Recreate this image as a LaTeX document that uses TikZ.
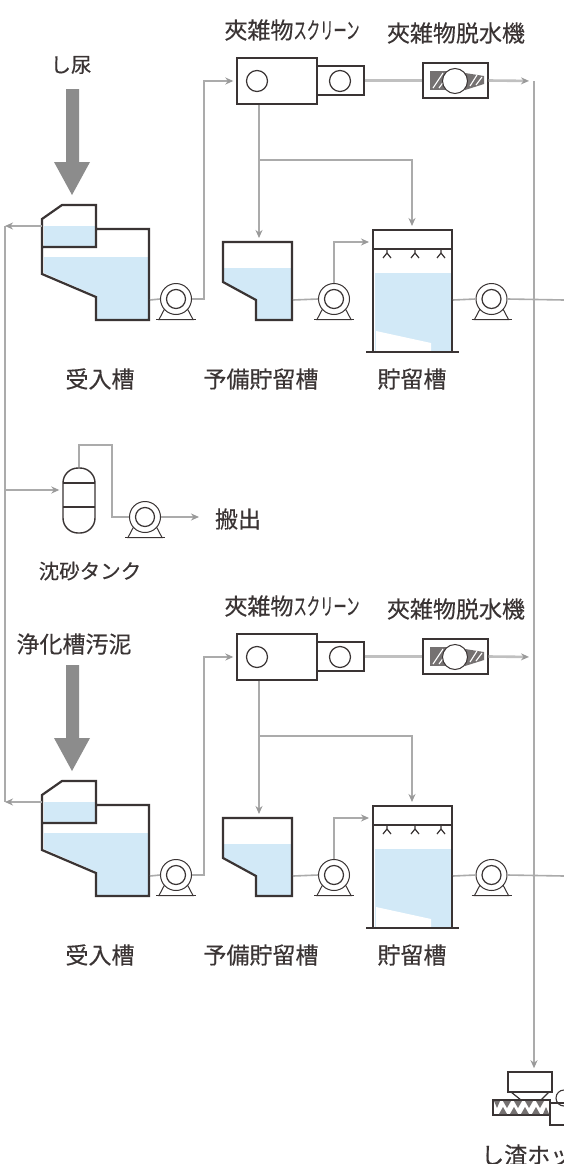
\documentclass[tikz,border=0pt]{standalone}
\usepackage{fontspec}
\usepackage{graphicx}
\setmainfont[FakeBold=0.35]{Noto Sans CJK JP}
\usetikzlibrary{arrows.meta}
\definecolor{ink}{HTML}{3A3434}
\definecolor{pipe}{HTML}{ABABAB}
\definecolor{tip}{HTML}{9A9A9A}
\definecolor{water}{HTML}{D2E9F7}
\definecolor{bigarrow}{HTML}{8C8C8C}
\tikzset{
  x=1pt,y=-1pt,
  tankline/.style={draw=ink,line width=2.2pt,line join=miter},
  pipeline/.style={draw=pipe,line width=1.6pt},
  widepipe/.style={draw=pipe!75,line width=2.6pt},
  flow/.style={pipeline,-{Stealth[length=8pt,width=7pt,color=tip]},shorten >=3pt},
  wideflow/.style={widepipe,-{Stealth[length=8pt,width=7pt,color=tip]},shorten >=5pt},
  label/.style={text=ink,font=\fontsize{23}{25}\selectfont,inner sep=0pt},
  smalllabel/.style={text=ink,font=\fontsize{20.5}{22}\selectfont,inner sep=0pt},
  pumpring/.style={circle,draw=ink,line width=1pt,fill=white,minimum size=31pt,inner sep=0pt},
  eqbox/.style={rectangle,draw=ink,line width=1.4pt,fill=white,inner sep=0pt},
  eqround/.style={circle,draw=ink,line width=1.2pt,fill=white,minimum size=21pt,inner sep=0pt},
}
\newcommand{\pumpat}[3]{%
  \draw[ink,line width=1pt,fill=white] (#2-11,#3+9) -- (#2-17,#3+20.5) -- (#2+17,#3+20.5) -- (#2+11,#3+9);
  \draw[ink,line width=1.6pt] (#2-20,#3+20.5) -- (#2+20,#3+20.5);
  \node[pumpring] (#1) at (#2,#3) {};
  \draw[ink,line width=1.2pt,fill=white] (#2,#3) circle[radius=9.5];
}
\newcommand{\processrow}[2]{%
\begin{scope}[shift={(0,#2)}]
  % big inflow arrow
  \fill[bigarrow] (66,89) -- (79,89) -- (79,162) -- (90,162) -- (72,195) -- (54,162) -- (66,162) -- cycle;
  % receiving tank
  \fill[water] (44,226) rectangle (95,246);
  \fill[water] (44,257) -- (148,257) -- (148,319) -- (97,319) -- (97,296) -- (44,273) -- cycle;
  \draw[tankline] (96,229) -- (149,229) -- (149,320) -- (96,320) -- (96,297) -- (42,274) -- (42,219) -- (62,205) -- (96,205) -- (96,247) -- (42,247);
  \coordinate (recvL#1) at (42,226);
  \coordinate (recvR#1) at (150,300);
  \pumpat{pumpA#1}{176}{299}
  % screen
  \node[eqbox,minimum width=47pt,minimum height=29pt] (scrS#1) at (340.5,80.5) {};
  \node[eqbox,minimum width=80pt,minimum height=46pt] (scr#1) at (277,81) {};
  \node[eqround] (scrC#1) at (257,81) {};
  \node[eqround] (scrD#1) at (340,81) {};
  % dewatering machine
  \node[eqbox,minimum width=65pt,minimum height=35pt] (dew#1) at (455.5,80.5) {};
  \fill[ink!70] (430,71) rectangle (447,90);
  \fill[ink!70] (465,73) -- (484,76) -- (484,84) -- (465,90) -- cycle;
  \draw[white,line width=1.1pt] (433,88) -- (443,73) (439,88) -- (447,77) (470,86) -- (477,75) (476,85) -- (482,77);
  \node[circle,draw=ink,line width=1pt,fill=white,minimum size=25pt,inner sep=0pt] (dewC#1) at (455,81) {};
  % preliminary storage tank
  \fill[water] (224,268) -- (291,268) -- (291,319) -- (257,319) -- (257,300) -- (224,282) -- cycle;
  \draw[tankline] (223,242) -- (292,242) -- (292,320) -- (256,320) -- (256,300) -- (223,282) -- cycle;
  \coordinate (preT#1) at (259,241);
  \coordinate (preR#1) at (293,300);
  \pumpat{pumpB#1}{334}{299}
  % storage tank
  \fill[water] (375,273) -- (451,273) -- (451,351) -- (375,351) -- cycle;
  \fill[white] (376,331) -- (431,343) -- (431,351) -- (376,351) -- cycle;
  \draw[tankline] (373,352) -- (373,230) -- (452,230) -- (452,352);
  \draw[ink,line width=2.6pt] (366,352) -- (459,352);
  \draw[ink,line width=1.3pt] (373,249) -- (452,249);
  \foreach \sx in {387,415,441}{
    \draw[ink,line width=1.2pt] (\sx,250) -- (\sx,253) (\sx-4,258) -- (\sx,253) -- (\sx+4,258);
  }
  \coordinate (stoT#1) at (412,229);
  \coordinate (stoL#1) at (372,242);
  \coordinate (stoR#1) at (453,300);
  \pumpat{pumpC#1}{491.5}{299}
  % pipes
  \coordinate (ent#1) at (204,81);
  \coordinate (split#1) at (259,160);
  \coordinate (out#1) at (564,300);
  \draw[pipeline] (recvR#1) -- (pumpA#1.west);
  \draw[flow] (pumpA#1.east) -| (ent#1) -- (scr#1.west);
  \draw[flow] (scr#1.south -| split#1) -- (preT#1);
  \draw[flow] (split#1) -| (stoT#1);
  \draw[pipeline] (preR#1) -- (pumpB#1.west);
  \draw[flow] (pumpB#1.north) |- (stoL#1);
  \draw[pipeline] (stoR#1) -- (pumpC#1.west);
  \draw[pipeline] (pumpC#1.east) -- (out#1);
  \draw[widepipe] (scrS#1.east) -- (dew#1.west);
  \coordinate (dewOut#1) at (534,81);
  \draw[wideflow] (dew#1.east) -- (dewOut#1);
  % labels
  \node[label] (lbScr#1) at (292,30) {夾雑物\scalebox{0.58}[1]{スクリーン}};
  \node[label] (lbDew#1) at (456,33) {夾雑物脱水機};
  \node[label] (lbRecv#1) at (100,379) {受入槽};
  \node[label] (lbPre#1) at (261,379) {予備貯留槽};
  \node[label] (lbSto#1) at (412,379) {貯留槽};
\end{scope}}
\begin{document}
\begin{tikzpicture}
\useasboundingbox (0,0) rectangle (564,1164);
\clip (0,0) rectangle (564,1164);
\fill[white] (0,0) rectangle (564,1164);
\processrow{a}{0}
\processrow{b}{576}
\node[smalllabel] (lbIn1) at (71,65) {し尿};
\node[label] (lbIn2) at (74,644) {浄化槽汚泥};
% left return pipe
\coordinate (retTop) at (5,226);
\coordinate (retBot) at (5,802);
\draw[pipeline] (retTop) -- (retBot);
\draw[flow,shorten >=0pt] (recvLa) -- (retTop);
\draw[flow,shorten >=0pt] (recvLb) -- (retBot);
% sand tank
\node[draw=ink,line width=1.4pt,fill=white,rectangle,rounded corners=15pt,minimum width=32pt,minimum height=65pt,inner sep=0pt] (sand) at (79,500.5) {};
\draw[ink,line width=1.1pt] (63,483) -- (95,483) (63,507) -- (95,507);
\pumpat{pumpS}{145}{517}
\coordinate (retMid) at (5,490);
\coordinate (sandUp) at (79,445);
\coordinate (sandOver) at (112,445);
\coordinate (sandDown) at (112,517);
\coordinate (carryOut) at (202,517);
\draw[flow] (retMid) -- (sand.west |- retMid);
\draw[pipeline] (sand.north) -- (sandUp) -- (sandOver) -- (sandDown) -- (pumpS.west);
\draw[flow] (pumpS.east) -- (carryOut);
\node[label] (lbCarry) at (238,519) {搬出};
\node[smalllabel] (lbSand) at (90,571) {沈砂タンク};
% screenings hopper
\node[eqbox,minimum width=44pt,minimum height=20pt,line width=1.6pt] (hop) at (530,1082) {};
\draw[ink,line width=1.2pt] (511,1092) -- (521,1100) -- (541,1100) -- (549,1092);
\node[rectangle,draw=ink,line width=1.2pt,fill=white,minimum width=57pt,minimum height=15pt,inner sep=0pt] (conv) at (521.5,1107.5) {};
\fill[ink!70] (494,1101) -- (500,1101) -- (497,1108) -- cycle (503,1101) -- (511,1101) -- (507,1108) -- cycle (514,1101) -- (522,1101) -- (518,1108) -- cycle (525,1101) -- (533,1101) -- (529,1108) -- cycle (536,1101) -- (544,1101) -- (540,1108) -- cycle
 (499,1114) -- (507,1114) -- (503,1107) -- cycle (510,1114) -- (518,1114) -- (514,1107) -- cycle (521,1114) -- (529,1114) -- (525,1107) -- cycle (532,1114) -- (540,1114) -- (536,1107) -- cycle (543,1114) -- (549,1114) -- (546,1107) -- cycle;
\node[eqbox,minimum width=24pt,minimum height=22pt] (hopM) at (562,1114) {};
\draw[ink,line width=1.1pt] (564,1106) arc[start angle=90,end angle=270,radius=8];
% main collecting pipe
\draw[flow] (dewOuta) -- (hop.north -| dewOuta);
\node[label,anchor=west] (lbHop) at (481,1155) {し渣ホッパ};
\end{tikzpicture}
\end{document}
